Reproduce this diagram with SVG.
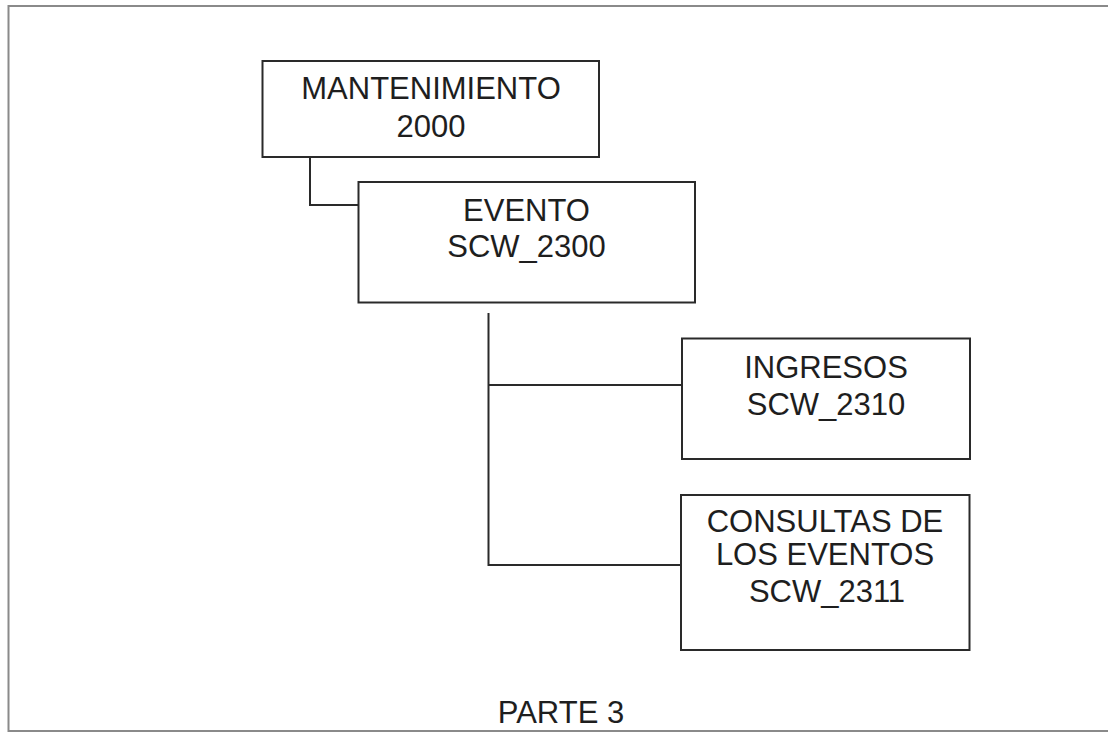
<svg xmlns="http://www.w3.org/2000/svg" width="1108" height="733" viewBox="0 0 1108 733">
<style>
.box{fill:#fff;stroke:#2a2a2a;stroke-width:2}
.con{fill:none;stroke:#2a2a2a;stroke-width:2}
.frame{fill:none;stroke:#8a8a8a;stroke-width:2}
text{font-family:"Liberation Sans",Arial,sans-serif;font-size:31px;fill:#1e1e1e;text-anchor:middle}
</style>
<rect width="1108" height="733" fill="#fff"/>
<path class="frame" d="M1108,6 H8.5 V731 H1108"/>
<g id="connectors">
<path class="con" d="M310,157 V205 H358"/>
<path class="con" d="M488.5,313 V565 H681"/>
<path class="con" d="M488.5,385 H682"/>
</g>
<g id="mantenimiento">
<rect class="box" x="262.5" y="61" width="336.5" height="96"/>
<text x="431" y="99">MANTENIMIENTO</text>
<text x="431" y="137">2000</text>
</g>
<g id="evento">
<rect class="box" x="358.5" y="182" width="336.5" height="120.5"/>
<text x="526.5" y="221">EVENTO</text>
<text x="526.5" y="257">SCW_2300</text>
</g>
<g id="ingresos">
<rect class="box" x="682" y="338.5" width="288" height="120.5"/>
<text x="826" y="378">INGRESOS</text>
<text x="826" y="415">SCW_2310</text>
</g>
<g id="consultas">
<rect class="box" x="681" y="495" width="288.5" height="155"/>
<text x="825" y="532">CONSULTAS DE</text>
<text x="825" y="565">LOS EVENTOS</text>
<text x="827" y="602">SCW_2311</text>
</g>
<text x="561" y="723">PARTE 3</text>
</svg>
